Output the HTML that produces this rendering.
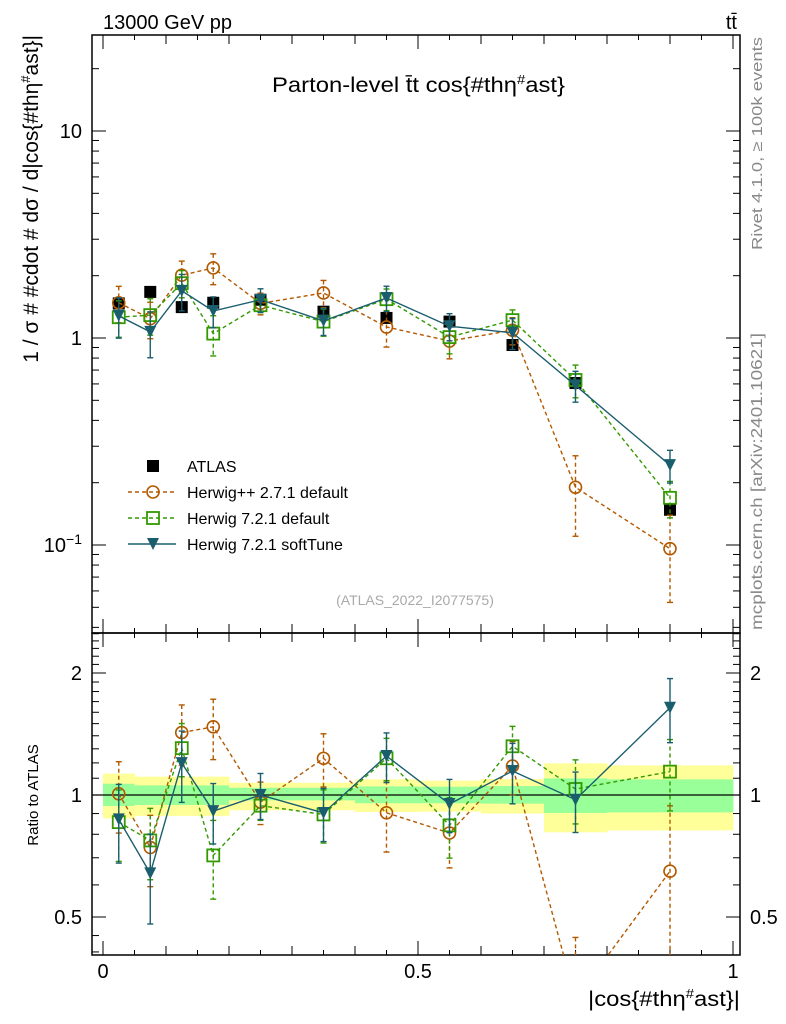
<!DOCTYPE html>
<html><head><meta charset="utf-8"><style>
html,body{margin:0;padding:0;background:#fff;width:786px;height:1024px;overflow:hidden}
svg{font-family:"Liberation Sans","DejaVu Sans",sans-serif;display:block}
</style></head><body>
<svg id="s" width="786" height="1024" xmlns="http://www.w3.org/2000/svg">
<defs>
<clipPath id="cm"><rect x="92" y="35" width="648" height="598"/></clipPath>
<clipPath id="cr"><rect x="92" y="633" width="648" height="322"/></clipPath>
</defs>
<text x="103" y="29" font-size="20">13000 GeV pp</text>
<text x="737" y="29" font-size="20" text-anchor="end">tt̄</text>
<text x="272" y="92" font-size="21" textLength="293" lengthAdjust="spacingAndGlyphs">Parton-level t̄t cos{#thη<tspan dy="-8" font-size="13">#</tspan><tspan dy="8">ast}</tspan></text>
<text transform="translate(38,35) rotate(-90)" font-size="21" text-anchor="end">1 / σ # #cdot # dσ / d|cos{#thη<tspan dy="-8" font-size="13">#</tspan><tspan dy="8">ast}|</tspan></text>
<text transform="translate(762,250) rotate(-90)" font-size="15" fill="#888" textLength="213" lengthAdjust="spacingAndGlyphs">Rivet 4.1.0, ≥ 100k events</text>
<text transform="translate(762,630) rotate(-90)" font-size="16" fill="#888" textLength="297" lengthAdjust="spacingAndGlyphs">mcplots.cern.ch [arXiv:2401.10621]</text>
<text x="415" y="605" font-size="14" fill="#aaa" text-anchor="middle">(ATLAS_2022_I2077575)</text>
<text transform="translate(38,795) rotate(-90)" font-size="15" text-anchor="middle">Ratio to ATLAS</text>
<text x="588" y="1006" font-size="21" textLength="152" lengthAdjust="spacingAndGlyphs">|cos{#thη<tspan dy="-8" font-size="13">#</tspan><tspan dy="8">ast}|</tspan></text>
<g id="g"></g>
</svg>
<script>
const binEdges=[0,0.05,0.1,0.15,0.2,0.3,0.4,0.5,0.6,0.7,0.8,1.0];
const xCenters=[0.025,0.075,0.125,0.175,0.25,0.35,0.45,0.55,0.65,0.75,0.9];
const atlas=[1.47,1.67,1.41,1.48,1.53,1.34,1.25,1.20,0.925,0.606,0.148];
const herwigpp=[1.48,1.24,2.01,2.18,1.47,1.65,1.13,0.967,1.09,0.19,0.096];
const herwig721=[1.26,1.29,1.84,1.05,1.44,1.2,1.54,1.01,1.22,0.627,0.169];
const softTune=[1.28,1.07,1.69,1.35,1.53,1.21,1.56,1.14,1.06,0.59,0.243];
const errHpp=[0.2,0.2,0.17,0.17,0.12,0.15,0.2,0.18,0.15,0.42,0.45];
const errH721=[0.2,0.2,0.15,0.22,0.08,0.15,0.12,0.17,0.12,0.18,0.2];
const errSoft=[0.22,0.25,0.2,0.17,0.13,0.15,0.14,0.15,0.17,0.17,0.18];
const bandYellowHi=[1.129,1.11,1.11,1.11,1.072,1.072,1.093,1.085,1.095,1.197,1.183];
const bandYellowLo=[0.876,0.888,0.888,0.888,0.917,0.917,0.908,0.91,0.9,0.809,0.818];
const bandGreenHi=[1.066,1.056,1.056,1.056,1.042,1.042,1.05,1.048,1.052,1.099,1.093];
const bandGreenLo=[0.939,0.945,0.945,0.945,0.97,0.97,0.954,0.954,0.952,0.903,0.906];
const mainTicks=[0.1,1,10];
const ratioTicks=[0.5,1,2];
const xTicks=[0,0.5,1];

const X=v=>103+630*v;
const Y=v=>338-207*Math.log10(v);
const R=v=>795-405.3*Math.log10(v);
const g=document.getElementById('g');
const NS='http://www.w3.org/2000/svg';
function el(t,a,p){const e=document.createElementNS(NS,t);for(const k in a)e.setAttribute(k,a[k]);(p||g).appendChild(e);return e;}

const bandG=el('g',{'clip-path':'url(#cr)'});


for(let i=0;i<xCenters.length;i++){
 const x0=X(binEdges[i]),x1=X(binEdges[i+1]);
 const y=el('rect',{x:x0,y:R(bandYellowHi[i]),width:x1-x0+0.5,height:R(bandYellowLo[i])-R(bandYellowHi[i]),fill:'#ffff99'},bandG);
 
 
 const gr=el('rect',{x:x0,y:R(bandGreenHi[i]),width:x1-x0+0.5,height:R(bandGreenLo[i])-R(bandGreenHi[i]),fill:'#99ff99'},bandG);
 
 
}
el('line',{x1:92,x2:740,y1:R(1),y2:R(1),stroke:'#000','stroke-width':1.2});

for(const [y0,y1,n] of [[35,633,'main-frame'],[633,955,'ratio-frame']]){
 const f=el('rect',{x:92,y:y0,width:648,height:y1-y0,fill:'none',stroke:'#000','stroke-width':1.5});
 
 
}
for(let d=-2;d<=1;d++)for(let m=1;m<10;m++){
 const v=m*Math.pow(10,d);const y=Y(v);if(y<35||y>633)continue;
 const L=m===1?14:7;
 el('line',{x1:92,x2:92+L,y1:y,y2:y,stroke:'#000'});el('line',{x1:740,x2:740-L,y1:y,y2:y,stroke:'#000'});
}
mainTicks.forEach(v=>{const t=el('text',{x:82,y:Y(v)+7,'font-size':20,'text-anchor':'end'});
 
 if(v===0.1){t.innerHTML='10<tspan dy="-8" font-size="14">−1</tspan>';}else t.textContent=v;});
for(let v=0.5;v<=2.51;v+=0.1){const y=R(v);if(y<633||y>955)continue;
 const maj=ratioTicks.some(t=>Math.abs(t-v)<1e-6);const L=maj?14:7;
 el('line',{x1:92,x2:92+L,y1:y,y2:y,stroke:'#000'});el('line',{x1:740,x2:740-L,y1:y,y2:y,stroke:'#000'});}
for(const v of [0.41,0.45])el('line',{x1:92,x2:99,y1:R(v),y2:R(v),stroke:'#000'});
ratioTicks.forEach(v=>{for(const [x,a] of [[82,'end'],[750,'start']]){const t=el('text',{x:x,y:R(v)+7,'font-size':20,'text-anchor':a});
 t.textContent=v;}});
for(let i=0;i<=20;i++){const v=i*0.05,x=X(v);const maj=i%10===0;const L=maj?14:(i%2===0?9:5);
 for(const [a,b] of [[633,633-L],[35,35+L],[955,955-L],[633,633+L]])el('line',{x1:x,x2:x,y1:a,y2:b,stroke:'#000'});}
xTicks.forEach(v=>{const t=el('text',{x:X(v),y:978,'font-size':20,'text-anchor':'middle'});
 t.textContent=v;});

function marker(type,x,y,c,p){
 if(type==='sq')return el('rect',{x:x-6,y:y-6,width:12,height:12,fill:'none',stroke:c,'stroke-width':1.8},p);
 if(type==='circ')return el('circle',{cx:x,cy:y,r:6,fill:'none',stroke:c,'stroke-width':1.6},p);
 if(type==='tri')return el('path',{d:`M${x-6},${y-6}L${x+6},${y-6}L${x},${y+6}Z`,fill:c},p);
 if(type==='box')return el('rect',{x:x-6,y:y-6,width:12,height:12,fill:'#000'},p);
}
function series(name,vals,errs,c,dash,type,ratio){
 const F=ratio?R:Y;
 const gg=el('g',{'clip-path':ratio?'url(#cr)':'url(#cm)'});
 
 
 const v=vals.map((a,i)=>ratio?a/atlas[i]:a);
 if(type!=='box'){
  el('polyline',{points:v.map((a,i)=>X(xCenters[i])+','+F(a)).join(' '),fill:'none',stroke:c,'stroke-width':1.4,'stroke-dasharray':dash},gg);
 }
 v.forEach((a,i)=>{const x=X(xCenters[i]);
  if(errs){const hi=F(a*(1+errs[i])),lo=F(a*(1-errs[i]));
   el('line',{x1:x,x2:x,y1:hi,y2:lo,stroke:c,'stroke-width':1.4,'stroke-dasharray':dash},gg);
   el('line',{x1:x-3,x2:x+3,y1:hi,y2:hi,stroke:c,'stroke-width':1.4},gg);el('line',{x1:x-3,x2:x+3,y1:lo,y2:lo,stroke:c,'stroke-width':1.4},gg);}
  const m=marker(type,x,F(a),c,gg);
  
  
 });
}
series('atlas',atlas,null,'#000','','box',false);
series('herwigpp-271',herwigpp,errHpp,'#b35900','4,3','circ',false);
series('herwig-721-default',herwig721,errH721,'#339900','4,3','sq',false);
series('herwig-721-softtune',softTune,errSoft,'#1a5e6e','','tri',false);
series('herwigpp-271',herwigpp,errHpp,'#b35900','4,3','circ',true);
series('herwig-721-default',herwig721,errH721,'#339900','4,3','sq',true);
series('herwig-721-softtune',softTune,errSoft,'#1a5e6e','','tri',true);

const lg=el('g',{});


const items=[['ATLAS','#000','','box'],['Herwig++ 2.7.1 default','#b35900','4,3','circ'],['Herwig 7.2.1 default','#339900','4,3','sq'],['Herwig 7.2.1 softTune','#1a5e6e','','tri']];
items.forEach((it,i)=>{const y=466+i*26;const e=el('g',{},lg);
 
 
 if(it[3]!=='box')el('line',{x1:128,x2:176,y1:y,y2:y,stroke:it[1],'stroke-width':1.4,'stroke-dasharray':it[2]},e);
 marker(it[3],153,y,it[1],e);
 const t=el('text',{x:187,y:y+6,'font-size':16},e);t.textContent=it[0];});
</script>
</body></html>
